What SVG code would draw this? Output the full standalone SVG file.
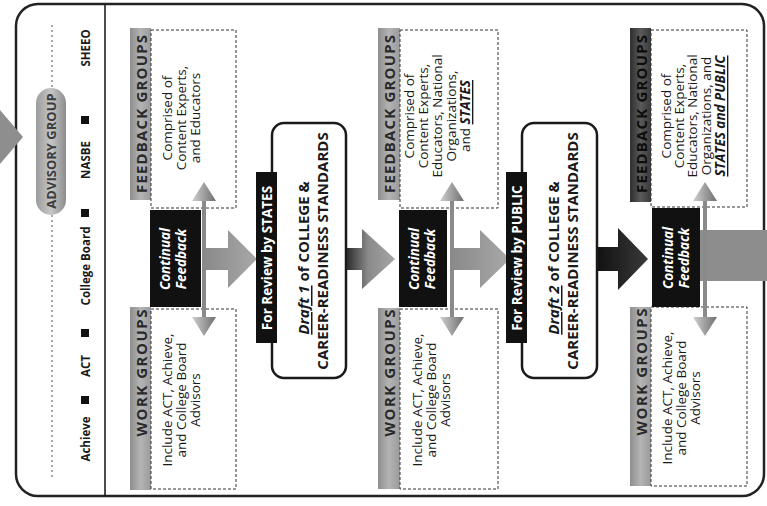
<svg xmlns="http://www.w3.org/2000/svg" width="767" height="506" viewBox="0 0 767 506">
<defs>
<linearGradient id="gBar" x1="0" y1="0" x2="1" y2="0"><stop offset="0" stop-color="#8e8e8e"/><stop offset="0.5" stop-color="#b4b4b4"/><stop offset="1" stop-color="#9a9a9a"/></linearGradient>
<linearGradient id="gBarDark" x1="0" y1="0" x2="1" y2="0"><stop offset="0" stop-color="#2e2e2e"/><stop offset="0.5" stop-color="#5a5a5a"/><stop offset="1" stop-color="#3a3a3a"/></linearGradient>
<linearGradient id="gPill" x1="0" y1="0" x2="1" y2="0"><stop offset="0" stop-color="#9c9c9c"/><stop offset="0.5" stop-color="#c6c6c6"/><stop offset="1" stop-color="#8c8c8c"/></linearGradient>
<linearGradient id="gArrow" x1="0" y1="0" x2="1" y2="0"><stop offset="0" stop-color="#8a8a8a"/><stop offset="1" stop-color="#a8a8a8"/></linearGradient>
<linearGradient id="gArrowMid" x1="0" y1="0" x2="1" y2="0"><stop offset="0" stop-color="#2a2a2a"/><stop offset="0.45" stop-color="#8a8a8a"/><stop offset="1" stop-color="#a5a5a5"/></linearGradient>
<linearGradient id="gArrowDark" x1="0" y1="0" x2="1" y2="0"><stop offset="0" stop-color="#111"/><stop offset="1" stop-color="#3a3a3a"/></linearGradient>
<linearGradient id="gHead" x1="0" y1="0" x2="1" y2="0"><stop offset="0" stop-color="#d0d0d0"/><stop offset="1" stop-color="#6e6e6e"/></linearGradient>
</defs>
<style>
.t{font-family:"Open Sans","Liberation Sans",sans-serif;font-size:13.5px;fill:#1a1a1a;text-anchor:middle;dominant-baseline:central}
.lbl{font-weight:700;font-size:15px;fill:#2a2a2a}
.lblw{font-weight:700;font-size:15px;fill:#0d0d0d}
.cf{font-weight:700;font-style:italic;fill:#fff;font-size:13.5px}
.rv{font-weight:700;fill:#fff;font-size:13.5px}
.dr{font-weight:700;font-size:15px}
.lg{font-weight:700;font-size:11.5px}
.adv{font-weight:700;font-size:13px;fill:#3c3c3c}
.em{font-weight:700;font-style:italic;text-decoration:underline}
.box{fill:#fff;stroke:#333;stroke-width:1;stroke-dasharray:3 2}
.bar{fill:url(#gBar)}
.blk{fill:#111}
.draft{fill:#fff;stroke:#1a1a1a;stroke-width:2.5}
.head{fill:url(#gHead)}
.shaft{fill:#8a8a8a}
</style>
<rect x="0" y="0" width="767" height="506" fill="#fff"/>
<!-- frame -->
<rect x="16" y="4" width="748" height="492" rx="22" fill="none" stroke="#222" stroke-width="2.5"/>
<line x1="52" y1="25" x2="52" y2="88" stroke="#555" stroke-width="1" stroke-dasharray="2 3"/>
<line x1="52" y1="215" x2="52" y2="480" stroke="#555" stroke-width="1" stroke-dasharray="2 3"/>
<line x1="105" y1="5" x2="105" y2="496" stroke="#111" stroke-width="1.5"/>

<g id="connectors">
<polygon points="0,110 23,137 0,164" fill="#8e8e8e"/>
<polygon points="205,248 228,248 228,230 257,259 228,288 228,270 205,270" fill="url(#gArrow)"/>
<polygon points="346,248 362,248 362,229 395,259 362,289 362,270 346,270" fill="url(#gArrowMid)"/>
<polygon points="452,248 480,248 480,230 510,259 480,288 480,270 452,270" fill="url(#gArrow)"/>
<polygon points="597,247 618,247 618,228 648,259 618,290 618,271 597,271" fill="url(#gArrowDark)"/>
<rect x="700" y="230" width="67" height="51" fill="#8d8d8d"/>
</g>

<g id="advisory">
<rect x="36" y="88" width="30" height="127" rx="15" fill="url(#gPill)"/>
<text class="t adv" transform="translate(51,151) rotate(-90)">ADVISORY GROUP</text>
</g>

<g id="legend">
<text class="t lg" transform="translate(85,439) rotate(-90)">Achieve</text>
<rect x="81" y="396" width="8" height="8" fill="#111"/>
<text class="t lg" transform="translate(85,366) rotate(-90)">ACT</text>
<rect x="81" y="329" width="8" height="8" fill="#111"/>
<text class="t lg" transform="translate(85,266) rotate(-90)">College Board</text>
<rect x="81" y="209" width="8" height="8" fill="#111"/>
<text class="t lg" transform="translate(85,160) rotate(-90)">NASBE</text>
<rect x="81" y="116" width="8" height="8" fill="#111"/>
<text class="t lg" transform="translate(85,48) rotate(-90)">SHEEO</text>
</g>

<g id="feedback1">
<rect class="bar" x="130" y="28" width="21" height="172"/>
<text class="t lbl" transform="translate(140.5,114) rotate(-90)" textLength="158" lengthAdjust="spacing">FEEDBACK GROUPS</text>
<rect class="box" x="151" y="30" width="85" height="178"/>
<text class="t" transform="translate(167,118) rotate(-90)">Comprised of</text>
<text class="t" transform="translate(181,118) rotate(-90)">Content Experts,</text>
<text class="t" transform="translate(195,118) rotate(-90)">and Educators</text>
</g>

<g id="work1">
<rect class="bar" x="130" y="307" width="21" height="183"/>
<text class="t lbl" transform="translate(140.5,373) rotate(-90)" textLength="127" lengthAdjust="spacing">WORK GROUPS</text>
<rect class="box" x="151" y="309" width="85" height="180"/>
<text class="t" transform="translate(167,400) rotate(-90)">Include ACT, Achieve,</text>
<text class="t" transform="translate(181,400) rotate(-90)">and College Board</text>
<text class="t" transform="translate(195,400) rotate(-90)">Advisors</text>
</g>

<g id="continual1">
<rect class="blk" x="150" y="210" width="51" height="97"/>
<text class="t cf" transform="translate(165,259) rotate(-90)">Continual</text>
<text class="t cf" transform="translate(181,259) rotate(-90)">Feedback</text>
<rect class="shaft" x="202" y="199" width="4" height="120"/>
<polygon class="head" points="192,201 216,201 204,182"/>
<polygon class="head" points="192,317 216,317 204,336"/>
</g>

<g id="draft1">
<rect class="draft" x="272" y="123" width="74" height="255" rx="12"/>
<rect class="blk" x="256" y="172" width="21" height="171"/>
<text class="t rv" transform="translate(266.5,258) rotate(-90)">For Review by STATES</text>
<text class="t dr" transform="translate(303,258) rotate(-90)"><tspan class="em">Draft 1</tspan> of COLLEGE &amp;</text>
<text class="t dr" transform="translate(322,251) rotate(-90)">CAREER-READINESS STANDARDS</text>
</g>

<g id="feedback3">
<rect class="bar" x="378" y="28" width="22" height="172"/>
<text class="t lbl" transform="translate(389,114) rotate(-90)" textLength="158" lengthAdjust="spacing">FEEDBACK GROUPS</text>
<rect class="box" x="400" y="30" width="98" height="178"/>
<text class="t" transform="translate(409,116) rotate(-90)">Comprised of</text>
<text class="t" transform="translate(423,116) rotate(-90)">Content Experts,</text>
<text class="t" transform="translate(437,116) rotate(-90)">Educators, National</text>
<text class="t" transform="translate(451,116) rotate(-90)">Organizations,</text>
<text class="t" transform="translate(465,116) rotate(-90)">and <tspan class="em">STATES</tspan></text>
</g>

<g id="work3">
<rect class="bar" x="378" y="308" width="22" height="181"/>
<text class="t lbl" transform="translate(389,373) rotate(-90)" textLength="127" lengthAdjust="spacing">WORK GROUPS</text>
<rect class="box" x="400" y="309" width="98" height="180"/>
<text class="t" transform="translate(417,400) rotate(-90)">Include ACT, Achieve,</text>
<text class="t" transform="translate(431,400) rotate(-90)">and College Board</text>
<text class="t" transform="translate(445,400) rotate(-90)">Advisors</text>
</g>

<g id="continual3">
<rect class="blk" x="399" y="210" width="48" height="97"/>
<text class="t cf" transform="translate(414,259) rotate(-90)">Continual</text>
<text class="t cf" transform="translate(430,259) rotate(-90)">Feedback</text>
<rect class="shaft" x="450" y="199" width="4" height="120"/>
<polygon class="head" points="440,201 464,201 452,182"/>
<polygon class="head" points="440,317 464,317 452,336"/>
</g>

<g id="draft2">
<rect class="draft" x="522" y="123" width="75" height="255" rx="12"/>
<rect class="blk" x="506" y="172" width="21" height="171"/>
<text class="t rv" transform="translate(516.5,258) rotate(-90)">For Review by PUBLIC</text>
<text class="t dr" transform="translate(553,258) rotate(-90)"><tspan class="em">Draft 2</tspan> of COLLEGE &amp;</text>
<text class="t dr" transform="translate(572,251) rotate(-90)">CAREER-READINESS STANDARDS</text>
</g>

<g id="feedback5">
<rect x="630" y="28" width="21" height="174" fill="url(#gBarDark)"/>
<text class="t lblw" transform="translate(640.5,114) rotate(-90)" textLength="158" lengthAdjust="spacing">FEEDBACK GROUPS</text>
<rect class="box" x="651" y="30" width="96" height="177"/>
<text class="t" transform="translate(666,116) rotate(-90)">Comprised of</text>
<text class="t" transform="translate(679,116) rotate(-90)">Content Experts,</text>
<text class="t" transform="translate(692,116) rotate(-90)">Educators, National</text>
<text class="t" transform="translate(706,116) rotate(-90)">Organizations, and</text>
<text class="t em" transform="translate(720,116) rotate(-90)">STATES and PUBLIC</text>
</g>

<g id="work5">
<rect class="bar" x="630" y="307" width="21" height="179"/>
<text class="t lbl" transform="translate(640.5,372) rotate(-90)" textLength="127" lengthAdjust="spacing">WORK GROUPS</text>
<rect class="box" x="651" y="307" width="96" height="179"/>
<text class="t" transform="translate(667,398) rotate(-90)">Include ACT, Achieve,</text>
<text class="t" transform="translate(681,398) rotate(-90)">and College Board</text>
<text class="t" transform="translate(695,398) rotate(-90)">Advisors</text>
</g>

<g id="continual5">
<rect class="blk" x="652" y="208" width="48" height="99"/>
<text class="t cf" transform="translate(668,258) rotate(-90)">Continual</text>
<text class="t cf" transform="translate(684,258) rotate(-90)">Feedback</text>
<rect class="shaft" x="703" y="199" width="4" height="120"/>
<polygon class="head" points="693,201 717,201 705,182"/>
<polygon class="head" points="693,317 717,317 705,336"/>
</g>
</svg>
